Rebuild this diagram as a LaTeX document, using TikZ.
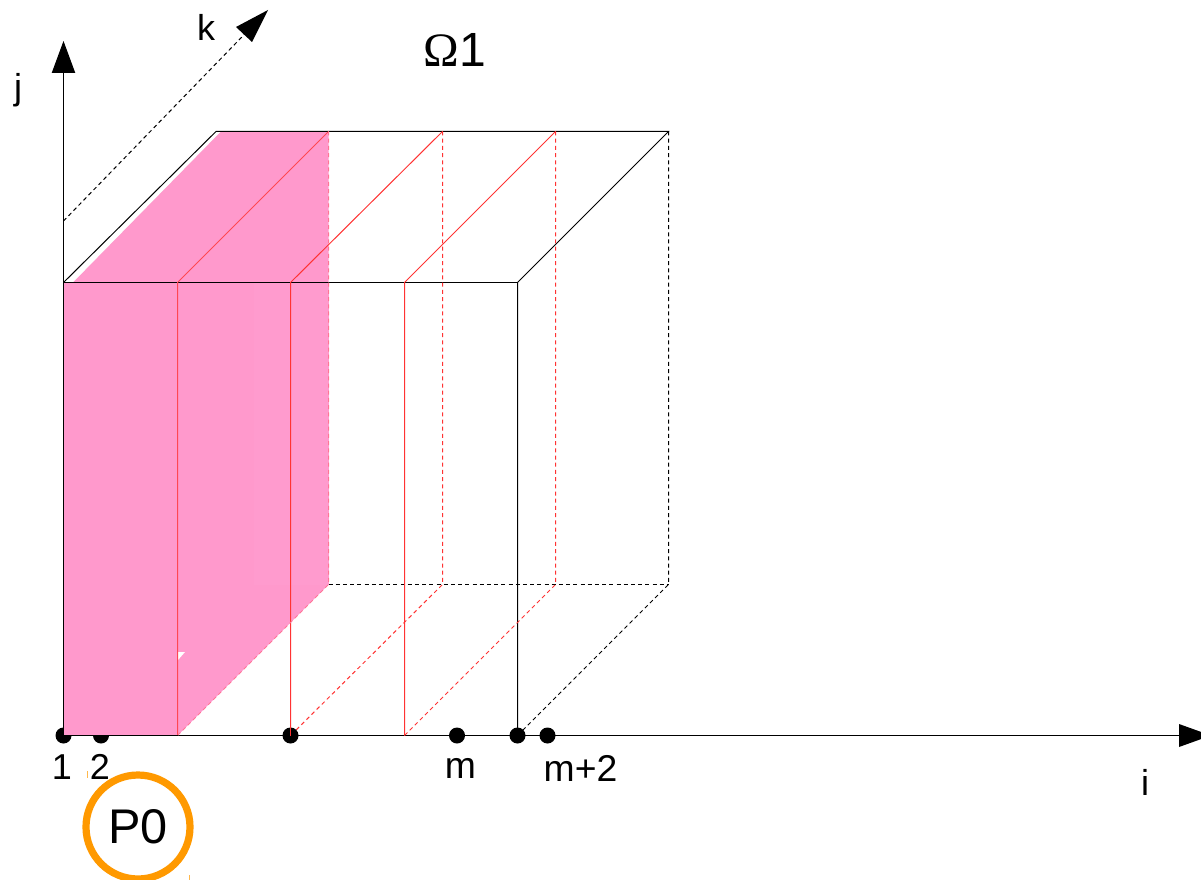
\documentclass[tikz,border=0pt]{standalone}
\usepackage{fontspec}
\setmainfont{Liberation Sans}
\newfontfamily\omegafont{Liberation Serif}
\usetikzlibrary{arrows.meta}
\definecolor{pinkfill}{HTML}{FF99CC}
\definecolor{pinkfaint}{HTML}{FF9BCE}
\definecolor{redline}{HTML}{FF3333}
\definecolor{ringorange}{HTML}{FF9900}
\tikzset{
  x=0.75pt,y=-0.75pt,
  axisline/.style={draw=black,line width=0.75pt},
  edgeline/.style={draw=black,line width=0.75pt},
  hiddenline/.style={draw=black,line width=0.75pt,dash pattern=on 3pt off 2.4pt},
  redsolid/.style={draw=redline,line width=0.75pt},
  redsoft/.style={draw=redline!80!pinkfill,line width=0.75pt},
  reddash/.style={draw=redline,line width=0.75pt,dash pattern=on 3pt off 2.4pt},
  paledash/.style={draw=redline!35!pinkfill,line width=0.75pt,dash pattern=on 3pt off 2.4pt},
  bigtip/.style={-{Triangle[length=24pt,width=17.5pt]}},
  dot/.style={circle,fill=black,inner sep=0pt,minimum size=12pt},
  lab/.style={inner sep=0pt,text=black,font=\fontsize{27}{27}\selectfont},
  ringnode/.style={circle,draw=ringorange,line width=5.4pt,minimum size=78pt,inner sep=0pt,font=\fontsize{36.5}{36.5}\selectfont},
}
\begin{document}
\begin{tikzpicture}
\useasboundingbox (0,0) rectangle (1201,880);
% named corners
\coordinate (O) at (63.5,735.5);
\coordinate (FTL) at (63.5,282.5);
\coordinate (FTR) at (517.5,282.5);
\coordinate (FBR) at (517.5,735.5);
\coordinate (BTL) at (216,131.5);
\coordinate (BTR) at (668.5,131.5);
\coordinate (BBR) at (668.5,584.5);
\coordinate (A1) at (177.5,282.5);\coordinate (A2) at (177.5,735.5);
\coordinate (A3) at (328.5,131.5);\coordinate (A4) at (328.5,584.5);
\coordinate (B1) at (290.5,282.5);\coordinate (B2) at (290.5,735.5);
\coordinate (B3) at (442.5,131.5);\coordinate (B4) at (442.5,584.5);
\coordinate (C1) at (404.5,282.5);\coordinate (C2) at (404.5,735.5);
\coordinate (C3) at (555.5,131.5);\coordinate (C4) at (555.5,584.5);
\coordinate (Jtip) at (63.5,41);
\coordinate (Kstart) at (63.5,221);
\coordinate (Kend) at (252,26.5);
\coordinate (Ktip) at (268,10);
\coordinate (Iend) at (1179,735.5);
% pink slab
\fill[pinkfill] (FTL) -- (73,282.5) -- (221,131.5) -- (A3) -- (A4) -- (A2) -- (O) -- cycle;
\fill[pinkfaint] (254,282.5) rectangle (A4);
\fill[white] (178,652) -- (185,652) -- (178,660) -- cycle;
% axes
\draw[axisline] (O) -- (Iend);
\fill (1179,724) -- (1179,747) -- (1211,735.5) -- cycle;
\draw[axisline,bigtip] (O) -- (Jtip);
\draw[hiddenline] (Kstart) -- (Kend);
\fill (Ktip) -- (236,27) -- (252,42) -- cycle;
% cube
\draw[edgeline] (FTL) -- (BTL) -- (BTR) -- (FTR) -- (FBR);
\draw[edgeline] (FTL) -- (FTR);
\draw[hiddenline] (BTR) -- (BBR) -- (FBR);
\draw[hiddenline] (A4) -- (BBR);
% red slices
\draw[redsoft] (A2) -- (A1) -- (A3);
\draw[redsolid] (B2) -- (B1) -- (B3);
\draw[redsolid] (C2) -- (C1) -- (C3);
\draw[paledash] (A3) -- (A4) -- (A2);
\draw[reddash] (B3) -- (B4) -- (B2);
\draw[reddash] (C3) -- (C4) -- (C2);
% dots
\node[dot] (d1) at (63.5,735.5) {};
\node[dot] (d2) at (101,735.5) {};
\node[dot] (d3) at (290.5,735.5) {};
\node[dot] (dm) at (457,735.5) {};
\node[dot] (d5) at (517.5,735.5) {};
\node[dot] (dp) at (547.5,735.5) {};
% pink covers upper half of first two dots
\fill[pinkfill] (63.5,726) rectangle (111,735.5);
\draw[axisline] (O) -- (A2);
\draw[redsolid] (B2) -- (290.5,726);
% labels
\node[lab] (ll1) at (62,767) {1};
\node[lab] (ll2) at (100,767) {2};
\node[lab,font=\fontsize{28}{28}\selectfont] (llm) at (460.5,768) {m};
\node[lab,font=\fontsize{28}{28}\selectfont] (llp) at (580.5,768) {m+2};
\node[lab] (lli) at (1145,782) {i};
\node[lab] (llj) at (18,90) {j};
\node[lab] (llk) at (206,27) {k};
\node[lab,font=\fontsize{36}{36}\selectfont] (omega) at (455,50) {{\omegafont Ω}1};
\node[ringnode] (p0) at (138,827) {P0};
\fill[ringorange!70] (86.5,771) rectangle (87.5,778);
\fill[ringorange!70] (189,875) rectangle (190,880);
\end{tikzpicture}
\end{document}
